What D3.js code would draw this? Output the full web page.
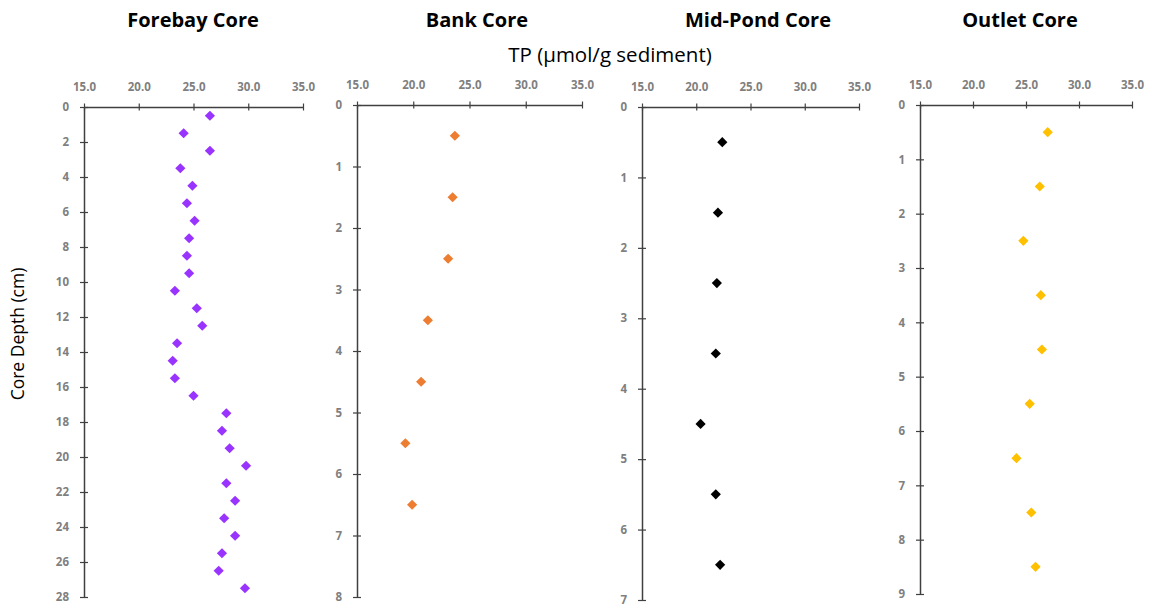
<!DOCTYPE html>
<html>
<head>
<meta charset="utf-8">
<script src="https://cdn.jsdelivr.net/npm/d3@7"></script>
<style>
  body { margin: 0; background: #fff; }
  svg { display: block; }
</style>
</head>
<body>
<svg id="chart"></svg>
<script>
// TP (umol/g sediment) by core depth
const forebayDepth = [0.5, 1.5, 2.5, 3.5, 4.5, 5.5, 6.5, 7.5, 8.5, 9.5, 10.5, 11.5, 12.5, 13.5,
  14.5, 15.5, 16.5, 17.5, 18.5, 19.5, 20.5, 21.5, 22.5, 23.5, 24.5, 25.5, 26.5, 27.5];
const forebayTP = [26.5, 24.1, 26.5, 23.8, 24.9, 24.4, 25.1, 24.6, 24.4, 24.6, 23.3, 25.3, 25.8, 23.5,
  23.1, 23.3, 25.0, 28.0, 27.6, 28.3, 29.8, 28.0, 28.8, 27.8, 28.8, 27.6, 27.3, 29.7];

const bankDepth = [0.5, 1.5, 2.5, 3.5, 4.5, 5.5, 6.5];
const bankTP = [23.7, 23.5, 23.1, 21.3, 20.7, 19.3, 19.9];

const midPondDepth = [0.5, 1.5, 2.5, 3.5, 4.5, 5.5, 6.5];
const midPondTP = [22.4, 22.0, 21.9, 21.8, 20.4, 21.8, 22.2];

const outletDepth = [0.5, 1.5, 2.5, 3.5, 4.5, 5.5, 6.5, 7.5, 8.5];
const outletTP = [27.05, 26.3, 24.75, 26.4, 26.5, 25.35, 24.1, 25.5, 25.9];

const coreTitles = ["Forebay Core", "Bank Core", "Mid-Pond Core", "Outlet Core"];
const depthMax = [28, 8, 7, 9];
const depthStep = [2, 1, 1, 1];
const tpTicks = [15, 20, 25, 30, 35];
const xLabel = "TP (\u00b5mol/g sediment)";
const yLabel = "Core Depth (cm)";

const width = 1149;
const height = 606;

// where each small panel sits on the page
const panels = [
  { x0: 84, x1: 303, y0: 107, y1: 597, tx: 193, color: "#9933ff", depth: forebayDepth, tp: forebayTP },
  { x0: 357, x1: 582, y0: 105, y1: 597, tx: 477, color: "#ed7d31", depth: bankDepth, tp: bankTP },
  { x0: 642, x1: 859, y0: 107, y1: 600, tx: 758, color: "#000000", depth: midPondDepth, tp: midPondTP },
  { x0: 920, x1: 1132, y0: 105, y1: 594, tx: 1020, color: "#ffc000", depth: outletDepth, tp: outletTP },
];

const svg = d3.select("#chart")
  .attr("width", width)
  .attr("height", height);

const axisColor = "#404040";
const tickTextColor = "#7f7f7f";

panels.forEach(function (p, i) {
  const x = d3.scaleLinear().domain([15, 35]).range([p.x0, p.x1]);
  const y = d3.scaleLinear().domain([0, depthMax[i]]).range([p.y0, p.y1]);

  // title
  svg.append("text")
    .attr("x", p.tx)
    .attr("y", 27)
    .attr("text-anchor", "middle")
    .style("font-family", "'Open Sans', sans-serif")
    .style("font-weight", "bold")
    .style("font-size", "20px")
    .text(coreTitles[i]);

  const g = svg.append("g");

  // TP axis along the top
  const xAxis = g.append("g")
    .attr("transform", `translate(0,${p.y0})`)
    .call(d3.axisTop(x).tickValues(tpTicks).tickFormat(d3.format(".1f")).tickSizeOuter(0).tickPadding(10));

  // depth axis on the left
  const yTicks = d3.range(0, depthMax[i] + 0.001, depthStep[i]);
  const yAxis = g.append("g")
    .attr("transform", `translate(${p.x0},0)`)
    .call(d3.axisLeft(y).tickValues(yTicks).tickFormat(d3.format("d")).tickSizeOuter(0).tickPadding(9));

  [xAxis, yAxis].forEach(function (a) {
    a.select(".domain").attr("stroke", axisColor).attr("stroke-width", 1.5);
    a.selectAll(".tick text")
      .attr("fill", tickTextColor)
      .style("font-family", "'Open Sans', sans-serif")
      .style("font-weight", "bold")
      .style("font-size", "11.5px");
  });
  // ticks cross the axis line
  xAxis.selectAll(".tick line").attr("y1", -3.5).attr("y2", 3.5).attr("stroke", axisColor).attr("stroke-width", 1.2);
  yAxis.selectAll(".tick line").attr("x1", -4).attr("x2", 4).attr("stroke", axisColor).attr("stroke-width", 1.2);

  const points = p.depth.map((d, k) => ({ depth: d, tp: p.tp[k] }));

  g.selectAll("path.pt")
    .data(points)
    .join("path")
    .attr("class", "pt")
    .attr("d", d3.symbol().type(d3.symbolSquare).size(52))
    .attr("transform", (d) => `translate(${x(d.tp)},${y(d.depth)}) rotate(45)`)
    .attr("fill", p.color);
});

svg.append("text")
  .attr("x", 610)
  .attr("y", 62)
  .attr("text-anchor", "middle")
  .style("font-family", "'Open Sans', sans-serif")
  .style("font-size", "20.5px")
  .text(xLabel);

svg.append("text")
  .attr("transform", "translate(24,334) rotate(-90)")
  .attr("text-anchor", "middle")
  .style("font-family", "'Open Sans', sans-serif")
  .style("font-size", "17.5px")
  .text(yLabel);
</script>
</body>
</html>
